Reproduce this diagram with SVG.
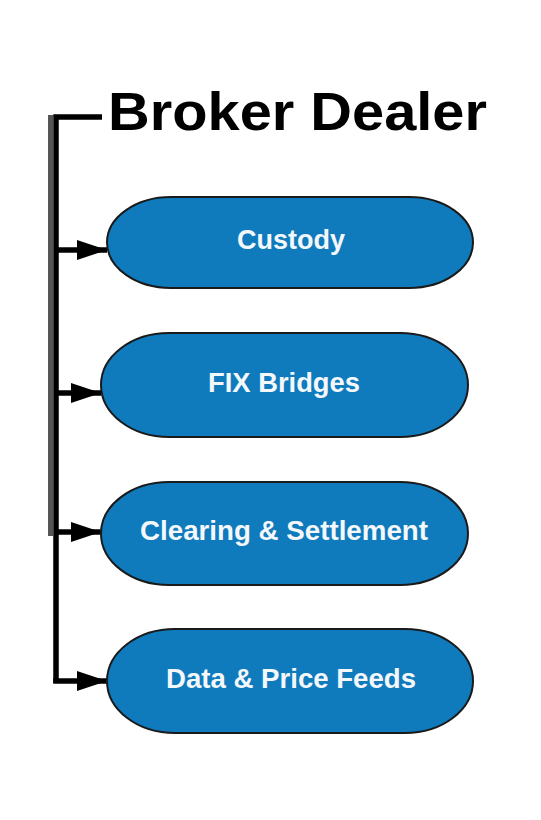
<svg xmlns="http://www.w3.org/2000/svg" width="541" height="820" viewBox="0 0 541 820">
<defs>
<marker id="ah" markerUnits="userSpaceOnUse" markerWidth="32" markerHeight="22" refX="30" refY="11" orient="auto">
<path d="M0,1 L30,11 L0,21 Z" fill="#000"/>
</marker>
<style>
.pill{fill:#0f7bbd;stroke:#1a1a1a;stroke-width:2}
.lbl{font-family:"Liberation Sans",Arial,sans-serif;font-weight:bold;font-size:27px;fill:#f4f8fb;text-anchor:middle}
.ln{fill:none;stroke:#000;stroke-width:5.5}
</style>
</defs>
<rect width="541" height="820" fill="#fff"/>
<g id="title">
<text x="108" y="130" font-family="Liberation Sans, Arial, sans-serif" font-weight="bold" font-size="53" textLength="379" lengthAdjust="spacingAndGlyphs" fill="#000">Broker Dealer</text>
</g>
<g id="connectors">
<line x1="50.5" y1="115" x2="50.5" y2="536" stroke="#555" stroke-width="5"/>
<path class="ln" d="M102,117 H56 V683"/>
<line class="ln" x1="56" y1="250" x2="107" y2="250" marker-end="url(#ah)"/>
<line class="ln" x1="56" y1="393" x2="101" y2="393" marker-end="url(#ah)"/>
<line class="ln" x1="56" y1="532" x2="101" y2="532" marker-end="url(#ah)"/>
<line class="ln" x1="53.25" y1="681" x2="107" y2="681" marker-end="url(#ah)"/>
</g>
<g id="custody">
<rect class="pill" x="107" y="197" width="366" height="91" rx="64" ry="45.5"/>
<text class="lbl" x="291" y="249" textLength="108" lengthAdjust="spacingAndGlyphs">Custody</text>
</g>
<g id="fix-bridges">
<rect class="pill" x="101" y="333" width="367" height="104" rx="68" ry="52"/>
<text class="lbl" x="284" y="392" textLength="152" lengthAdjust="spacingAndGlyphs">FIX Bridges</text>
</g>
<g id="clearing">
<rect class="pill" x="101" y="482" width="367" height="103" rx="68" ry="51.5"/>
<text class="lbl" x="284" y="540" textLength="288" lengthAdjust="spacingAndGlyphs">Clearing &amp; Settlement</text>
</g>
<g id="data-feeds">
<rect class="pill" x="107" y="629" width="366" height="104" rx="68" ry="52"/>
<text class="lbl" x="291" y="688" textLength="250" lengthAdjust="spacingAndGlyphs">Data &amp; Price Feeds</text>
</g>
</svg>
